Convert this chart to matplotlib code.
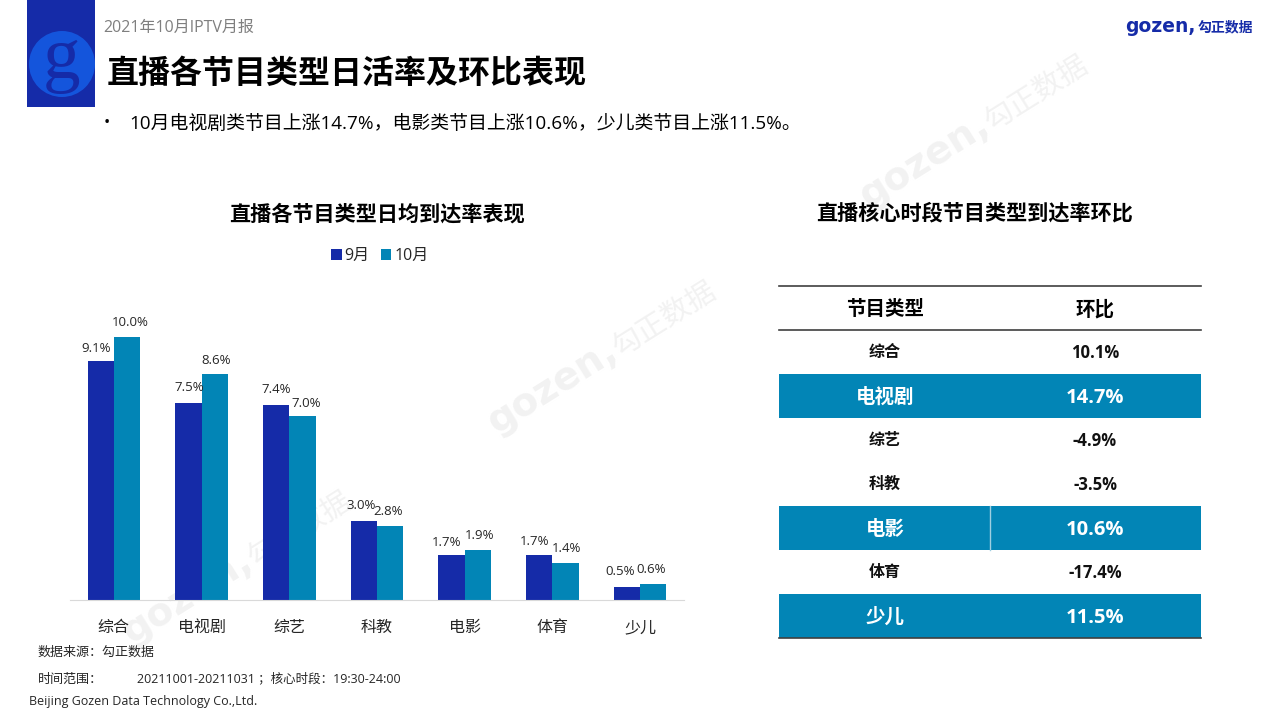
import matplotlib
matplotlib.use('Agg')
import matplotlib.pyplot as plt
from matplotlib.patches import Rectangle, Circle

plt.rcParams['font.family'] = ['Open Sans', 'Noto Sans CJK SC', 'DejaVu Sans']

categories = ['综合', '电视剧', '综艺', '科教', '电影', '体育', '少儿']
sep_values = [9.1, 7.5, 7.4, 3.0, 1.7, 1.7, 0.5]
oct_values = [10.0, 8.6, 7.0, 2.8, 1.9, 1.4, 0.6]
series_names = ['9月', '10月']
table_header = ['节目类型', '环比']
table_types = ['综合', '电视剧', '综艺', '科教', '电影', '体育', '少儿']
table_changes = ['10.1%', '14.7%', '-4.9%', '-3.5%', '10.6%', '-17.4%', '11.5%']
highlighted = ['电视剧', '电影', '少儿']

NAVY = '#152BA8'
TEAL = '#0285B6'
W, H = 1280, 720
fig = plt.figure(figsize=(12.8, 7.2), dpi=100, facecolor='white')

# page overlay in pixel coordinates
bg = fig.add_axes([0, 0, 1, 1], zorder=0)
bg.set_xlim(0, W); bg.set_ylim(H, 0); bg.axis('off')
top = fig.add_axes([0, 0, 1, 1], zorder=3)
top.set_xlim(0, W); top.set_ylim(H, 0); top.axis('off'); top.patch.set_alpha(0)

# watermarks
for x, y in [(496, 434), (868, 208), (131, 644)]:
    bg.text(x, y, 'gozen,', fontsize=28, fontweight='bold', color='#f2f2f2', rotation=32,
            rotation_mode='anchor', ha='left', va='baseline', family='DejaVu Sans')
    bg.text(x + 124, y - 77, '勾正数据', fontsize=21, color='#f2f2f2', rotation=32,
            rotation_mode='anchor', ha='left', va='baseline')

# header
top.add_patch(Rectangle((27, 0), 68, 107, color=NAVY, lw=0))
top.add_patch(Circle((62, 64), 33, color='#1455DC', lw=0))
top.text(62, 60, 'g', fontsize=54, family='Liberation Serif', color=NAVY,
         ha='center', va='center')
top.text(103, 28, '2021年10月IPTV月报', fontsize=11.5, color='#7f7f7f', va='center')
top.text(107, 75, '直播各节目类型日活率及环比表现', fontsize=23, fontweight='bold', color='black', va='center')
top.text(104, 123, '•', fontsize=12, color='black', va='center')
top.text(129, 124, '10月电视剧类节目上涨14.7%，电影类节目上涨10.6%，少儿类节目上涨11.5%。',
         fontsize=13.6, color='black', va='center')
top.text(1125, 27, 'gozen,', fontsize=13.5, fontweight='bold', color=NAVY, va='center', family='DejaVu Sans')
top.text(1198, 27, '勾正数据', fontsize=10, fontweight='bold', color=NAVY, va='center')

# titles
top.text(377, 215, '直播各节目类型日均到达率表现', fontsize=15.2, fontweight='bold', ha='center', va='center')
top.text(975, 214, '直播核心时段节目类型到达率环比', fontsize=15.2, fontweight='bold', ha='center', va='center')

# bar chart
ax = fig.add_axes([70 / W, 1 - 600 / H, 614 / W, 300 / H], zorder=2)
ax.patch.set_alpha(0)
bw = 0.3
xs = list(range(len(categories)))
b1 = ax.bar([x - bw / 2 for x in xs], sep_values, bw, color=NAVY, label=series_names[0])
b2 = ax.bar([x + bw / 2 for x in xs], oct_values, bw, color=TEAL, label=series_names[1])
ax.set_xlim(-0.5, 6.5)
ax.set_ylim(0, 300 / 26.3)
ax.set_yticks([])
ax.set_xticks(xs, categories, fontsize=11.5, color='#262626')
ax.tick_params(axis='x', length=0, pad=14.5)
for s in ['top', 'left', 'right']:
    ax.spines[s].set_visible(False)
ax.spines['bottom'].set_color('#d9d9d9')

nudge1 = [(-5, 12), (1, 15), (0, 16), (-3, 16), (-5, 13), (-5, 14), (-7, 15)]
nudge2 = [(3, 15), (1, 13), (4, 12), (-2, 15), (2, 15), (1, 15), (-2, 15)]
for bars, vals, nudges in [(b1, sep_values, nudge1), (b2, oct_values, nudge2)]:
    for b, v, (dx, dy) in zip(bars, vals, nudges):
        ax.annotate(f'{v:.1f}%', (b.get_x() + b.get_width() / 2, v),
                    xytext=(dx * 0.72, dy * 0.72), textcoords='offset points',
                    ha='center', va='center', fontsize=9.5, color='#262626')

ax.legend(loc='center', bbox_to_anchor=((380 - 70) / 614, (600 - 256) / 300), ncol=2, frameon=False,
          fontsize=11.5, handlelength=0.65, handleheight=0.65, handletextpad=0.2, columnspacing=0.7,
          labelcolor='#262626', borderpad=0)

# table
tx0, tx1, tmid = 779, 1201, 990
col1, col2 = 885, 1095
row_h = 44
y0 = 330
top.plot([tx0, tx1], [286, 286], color='#404040', lw=1.2)
top.plot([tx0, tx1], [330, 330], color='#404040', lw=1.2)
top.text(col1, 310, table_header[0], fontsize=14, fontweight='bold', ha='center', va='center')
top.text(col2, 310, table_header[1], fontsize=14, fontweight='bold', ha='center', va='center')
for i, (name, change) in enumerate(zip(table_types, table_changes)):
    yy = y0 + i * row_h
    if name in highlighted:
        cy = yy + row_h / 2 + 2
        top.add_patch(Rectangle((tx0, yy), tx1 - tx0, row_h, color=TEAL, lw=0))
        if name == '电影':
            top.plot([tmid, tmid], [yy, yy + row_h], color='#9fcfe1', lw=1)
        top.text(col1, cy, name, fontsize=14, fontweight='bold', color='white', ha='center', va='center')
        top.text(col2, cy, change, fontsize=14.5, fontweight='bold', color='white', ha='center', va='center')
    else:
        cy = yy + row_h / 2 + 1
        top.text(col1, cy, name, fontsize=11.5, fontweight='bold', color='#111111', ha='center', va='center')
        top.text(col2, cy, change, fontsize=12, fontweight='bold', color='#111111', ha='center', va='center')
top.plot([tx0, tx1], [638, 638], color='#404040', lw=1.2)

# footer
top.text(38, 652, '数据来源：勾正数据', fontsize=9.4, color='#262626', va='center')
top.text(38, 679, '时间范围：', fontsize=9.4, color='#262626', va='center')
top.text(137, 679, '20211001-20211031 ；核心时段：19:30-24:00', fontsize=9, color='#262626', va='center')
top.text(29, 701, 'Beijing Gozen Data Technology Co.,Ltd.', fontsize=9, color='#262626', va='center')

fig.savefig('out.png', dpi=100)
